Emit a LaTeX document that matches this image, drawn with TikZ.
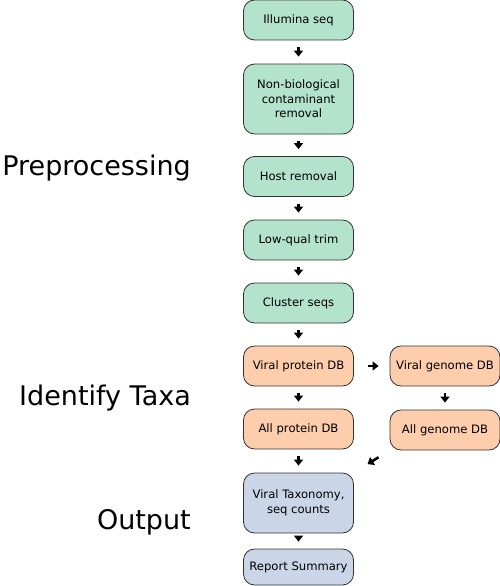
\documentclass[tikz,border=0pt]{standalone}
\usepackage{fontspec}
\setmainfont{DejaVu Sans}
\usetikzlibrary{arrows.meta}
\definecolor{prep}{HTML}{B3E2CD}
\definecolor{taxa}{HTML}{FDCDAC}
\definecolor{outp}{HTML}{CBD5E8}
\newcommand*{\w}{110pt}

\begin{document}
\begin{tikzpicture}[
   x=1pt, y=-1pt,
   stepbox/.style={rectangle, rounded corners=11pt, draw=black!80, line width=0.8,
                   text=black, align=center, inner sep=2, minimum width=\w,
                   minimum height=40pt, font=\fontsize{11.6}{14.5}\selectfont},
   prepbox/.style={stepbox, fill=prep},
   taxabox/.style={stepbox, fill=taxa},
   outbox/.style={stepbox, fill=outp},
   phase/.style={anchor=base east, inner sep=0, font=\fontsize{27}{30}\selectfont},
   flow/.style={-{Triangle[length=6pt, width=9pt]}, line width=2.6, color=black,
                shorten <=7pt, shorten >=7pt}
  ]

  \useasboundingbox (0, 0) rectangle (500, 586);

  % Preprocessing
  \node (ill) at (298.5, 20) [prepbox] {Illumina seq};
  \node (nbc) at (298.5, 99) [prepbox, minimum height=70pt] {Non-biological\\contaminant\\removal};
  \node (hst) at (298.5, 176.5) [prepbox] {Host removal};
  \node (lqt) at (298.5, 240) [prepbox] {Low-qual trim};
  \node (cls) at (298.5, 303) [prepbox] {Cluster seqs};

  % Identify Taxa
  \node (vpd) at (298.5, 366) [taxabox] {Viral protein DB};
  \node (vgd) at (445, 366) [taxabox] {Viral genome DB};
  \node (apd) at (298.5, 429) [taxabox] {All protein DB};
  \node (agd) at (445, 430) [taxabox] {All genome DB};

  % Output
  \node (vtx) at (298.5, 503) [outbox, minimum height=60pt] {Viral Taxonomy,\\seq counts};
  \node (rep) at (298.5, 567) [outbox, minimum height=36pt] {Report Summary};

  \node (lp) at (191, 175) [phase] {Preprocessing};
  \node (li) at (191, 405) [phase] {Identify Taxa};
  \node (lo) at (191, 529) [phase] {Output};

  \foreach \B/\E in {ill/nbc, nbc/hst, hst/lqt, lqt/cls, cls/vpd, vpd/apd, vgd/agd, apd/vtx, vtx/rep} {
    \draw[flow] (\B) -- (\E);
  }
  \draw[flow, shorten <=14pt, shorten >=11pt] (vpd) -- (vgd);
  \draw[flow, shorten <=13pt, shorten >=16pt] (agd.south west) -- (vtx.north east);

\end{tikzpicture}
\end{document}
